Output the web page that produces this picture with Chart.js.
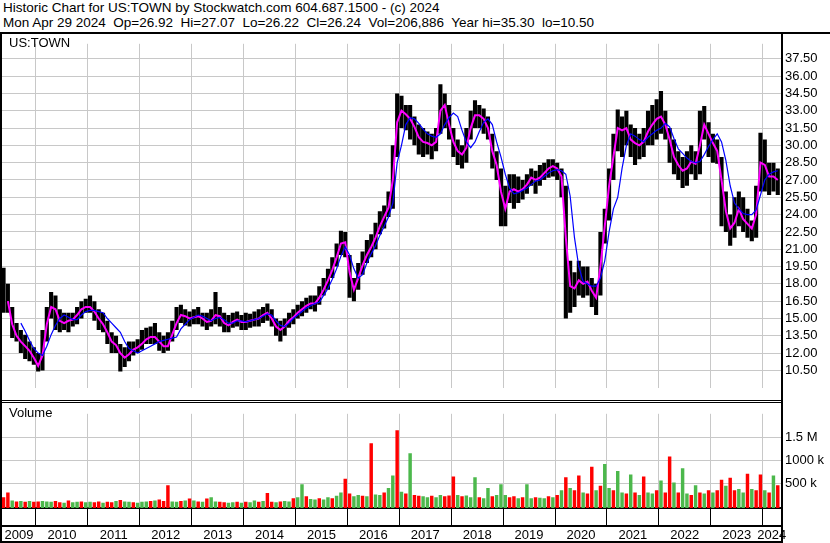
<!DOCTYPE html>
<html>
<head>
<meta charset="utf-8">
<script src="https://cdn.jsdelivr.net/npm/chart.js@4.4.1/dist/chart.umd.min.js"></script>
<style>
body { margin: 0; background: #fff; }
#wrap { position: relative; width: 830px; height: 543px; overflow: hidden; font-family: "Liberation Sans", Arial, sans-serif; color: #000; }
.hd { position: absolute; left: 3px; font-size: 13.5px; line-height: 15px; white-space: pre; }
.lbl { position: absolute; left: 9px; font-size: 13px; }
.ln { position: absolute; background: #000; }
canvas { position: absolute; left: 0; }
</style>
</head>
<body>
<div id="wrap">
  <div class="hd" style="top:0">Historic Chart for US:TOWN by Stockwatch.com 604.687.1500 - (c) 2024</div>
  <div class="hd" style="top:15px">Mon Apr 29 2024  Op=26.92  Hi=27.07  Lo=26.22  Cl=26.24  Vol=206,886  Year hi=35.30  lo=10.50</div>
  <canvas id="priceChart" width="830" height="368" style="top:32px"></canvas>
  <canvas id="volChart" width="830" height="141" style="top:402px"></canvas>
  <div class="lbl" style="top:35px">US:TOWN</div>
  <div class="lbl" style="top:405px">Volume</div>
  <div class="ln" style="left:0;top:32px;width:830px;height:2px"></div>
  <div class="ln" style="left:0;top:32px;width:2px;height:511px"></div>
  <div class="ln" style="left:781px;top:32px;width:2px;height:511px"></div>
  <div class="ln" style="left:0;top:400px;width:781px;height:1px"></div>
  <div class="ln" style="left:0;top:402px;width:781px;height:1px"></div>
  <div class="ln" style="left:0;top:541px;width:781px;height:2px"></div>
</div>
<script>
// monthly bars, May 2009 .. Apr 2024
const firstYear = 2009, firstMonth = 5, monthCount = 180;

const highs = [
  19.4, 18.0, 16.0, 14.6, 14.0, 13.6, 13.0, 12.5,
  12.0, 14.0, 16.0, 17.3, 17.0, 15.8, 15.5, 15.5, 15.5, 16.0, 16.5, 16.7,
  17.0, 16.5, 15.8, 15.5, 14.8, 13.8, 13.5, 12.8, 12.5, 13.0, 13.0, 13.2,
  14.0, 14.2, 14.3, 14.6, 13.8, 13.5, 13.8, 14.8, 16.0, 16.2, 15.8, 15.6,
  15.8, 16.0, 15.5, 15.5, 15.8, 17.3, 16.0, 15.5, 15.3, 15.5, 15.6, 15.3,
  15.5, 15.4, 15.6, 15.8, 16.0, 16.3, 15.8, 15.0, 14.8, 15.0, 15.5, 15.8,
  16.2, 16.5, 16.8, 17.0, 17.0, 17.8, 18.5, 19.3, 20.3, 21.5, 22.6, 22.5,
  20.5, 18.5, 19.8, 20.8, 21.8, 22.3, 23.3, 24.3, 24.8, 26.0, 30.0, 34.5,
  34.3, 33.5, 33.5, 32.5, 31.8, 31.5, 31.2, 31.0, 31.5, 35.3, 34.5, 33.5,
  31.5, 30.5, 30.0, 31.5, 33.0, 33.9, 33.5, 33.2, 32.5, 31.0, 29.5, 28.0,
  26.5, 27.5, 27.5, 27.3, 27.0, 27.5, 28.0, 27.8, 28.3, 28.5, 28.8, 28.8,
  28.5, 28.0, 26.5, 20.0, 19.0, 20.0, 19.5, 19.5, 18.5, 18.0, 22.5, 24.5,
  28.0, 31.0, 33.1, 32.5, 33.0, 31.8, 31.5, 31.0, 31.5, 33.0, 33.5, 34.0,
  34.7, 33.0, 31.5, 30.5, 29.5, 29.0, 29.5, 30.0, 29.5, 33.0, 33.4, 32.0,
  31.0, 30.5, 29.0, 26.0, 24.0, 25.5, 26.0, 25.5, 24.5, 23.5, 26.5, 31.1,
  30.5, 28.5, 28.5, 28.0
];
const lows = [
  15.5, 15.5, 13.3, 13.0, 12.0, 11.5, 11.3, 11.0,
  10.4, 10.5, 13.0, 15.0, 14.0, 13.8, 14.0, 13.8, 14.3, 14.5, 15.0, 15.5,
  15.5, 14.8, 14.0, 13.8, 12.8, 12.0, 12.0, 10.4, 10.8, 11.3, 11.8, 12.0,
  12.3, 12.8, 12.8, 12.8, 12.2, 12.0, 12.2, 13.0, 14.0, 14.6, 14.4, 14.3,
  14.5, 14.5, 14.3, 14.0, 14.3, 14.5, 14.3, 13.8, 13.8, 14.2, 14.3, 14.0,
  14.0, 14.2, 14.3, 14.3, 14.6, 14.8, 14.3, 13.5, 13.0, 13.5, 14.2, 14.5,
  15.0, 15.2, 15.5, 15.8, 15.6, 16.2, 17.0, 17.5, 18.5, 19.5, 20.5, 20.3,
  16.8, 16.5, 17.5, 18.8, 19.8, 20.3, 21.0, 22.3, 22.8, 23.8, 24.5, 29.0,
  31.5, 31.3, 30.5, 30.0, 29.2, 29.0, 29.2, 28.8, 29.5, 31.0, 31.5, 30.5,
  29.0, 28.3, 28.0, 28.5, 30.5, 31.5, 31.5, 31.0, 30.5, 28.0, 27.0, 23.0,
  23.0, 25.0, 24.5, 25.0, 25.3, 25.8, 26.5, 25.8, 26.5, 27.0, 27.2, 27.3,
  27.0, 25.5, 15.0, 15.5, 16.0, 17.0, 16.8, 17.0, 16.0, 15.3, 17.0, 21.5,
  23.5, 27.0, 29.5, 29.0, 30.0, 29.0, 28.3, 28.8, 29.0, 30.0, 30.0, 30.5,
  31.0, 30.5, 28.5, 27.5, 27.0, 26.3, 26.5, 27.5, 27.0, 27.5, 30.5, 29.0,
  28.5, 28.4, 23.0, 22.5, 21.3, 22.0, 23.0, 22.5, 22.0, 21.7, 22.0, 26.0,
  26.0, 25.7, 26.0, 25.7
];
// magenta (short) average
const shortAvg = [
  null, 16.5, 14.5, 13.5, 13.0, 12.6, 12.2, 11.6,
  10.9, 11.8, 14.5, 16.0, 15.8, 14.8, 14.6, 14.8, 14.9, 15.3, 15.8, 16.0,
  16.0, 15.6, 15.0, 14.5, 13.8, 13.0, 12.7, 12.0, 11.6, 11.9, 12.3, 12.5,
  12.8, 13.2, 13.4, 13.4, 13.0, 12.6, 12.6, 13.6, 14.6, 15.3, 15.2, 15.0,
  15.1, 15.2, 15.0, 14.7, 14.8, 15.3, 15.2, 14.6, 14.4, 14.7, 14.9, 14.7,
  14.7, 14.8, 14.9, 15.0, 15.3, 15.5, 15.0, 14.3, 14.0, 14.3, 14.8, 15.1,
  15.5, 15.8, 16.1, 16.3, 16.3, 16.8, 17.5, 18.3, 19.2, 20.3, 21.5, 21.6,
  19.0, 17.5, 18.5, 19.6, 20.5, 21.2, 22.0, 23.0, 23.8, 24.6, 27.0, 32.0,
  33.0, 32.7, 32.3, 31.6, 30.7, 30.3, 30.2, 30.0, 30.3, 33.0, 33.5, 31.8,
  30.3, 29.5, 29.2, 29.8, 31.5, 32.6, 32.6, 32.3, 31.5, 29.5, 28.3, 26.0,
  24.5, 26.0, 26.2, 26.0, 26.2, 26.6, 27.2, 27.0, 27.2, 27.6, 28.0, 28.2,
  28.0, 27.3, 22.0, 17.8, 17.6, 18.3, 18.0, 18.2, 17.4, 16.8, 19.5, 23.0,
  26.5, 29.0, 31.5, 31.3, 31.5, 30.5, 30.2, 30.0, 30.3, 31.2, 31.8, 32.3,
  32.5, 31.8, 30.5, 29.0, 28.3, 27.8, 28.0, 28.6, 28.4, 30.0, 31.8, 31.0,
  30.2, 29.5, 27.0, 24.3, 22.8, 23.3, 24.5, 23.6, 23.2, 22.8, 24.0, 28.5,
  28.3, 27.3, 27.3, 27.0
];
// blue (long) average
const longAvg = [
  null, null, null, null, 14.6, 13.9, 13.1, 12.4,
  12.0, 11.8, 12.6, 13.6, 14.4, 15.0, 15.3, 15.1, 14.9, 14.9, 15.3, 15.6,
  15.7, 15.7, 15.6, 15.5, 15.0, 14.6, 14.2, 13.8, 13.0, 12.4, 12.2, 12.0,
  12.2, 12.4, 12.6, 12.8, 13.0, 13.1, 13.2, 13.3, 13.4, 14.1, 14.5, 14.9,
  15.1, 15.3, 15.2, 15.0, 14.8, 15.0, 15.1, 14.9, 14.6, 14.6, 14.8, 14.8,
  14.7, 14.8, 14.9, 15.0, 15.2, 15.4, 15.3, 14.8, 14.4, 14.3, 14.6, 15.0,
  15.3, 15.6, 15.9, 16.1, 16.3, 16.4, 17.0, 17.6, 18.4, 19.3, 20.4, 21.2,
  20.5, 19.3, 18.5, 18.8, 19.8, 20.6, 21.3, 22.2, 23.0, 23.8, 25.0, 28.5,
  30.0, 31.8, 32.4, 32.3, 31.9, 31.4, 31.0, 30.8, 30.7, 31.0, 31.8, 32.4,
  32.8, 32.5, 31.3, 30.3, 29.8, 30.3, 31.2, 32.0, 32.3, 31.8, 30.3, 29.0,
  27.5, 26.3, 25.8, 25.9, 26.1, 26.3, 26.6, 26.9, 27.0, 27.3, 27.6, 27.8,
  27.9, 27.8, 27.5, 25.6, 22.0, 19.5, 18.2, 18.0, 17.8, 17.8, 18.5, 20.0,
  22.5, 24.5, 25.5, 28.0, 30.0, 31.0, 30.8, 30.5, 30.3, 30.7, 31.0, 31.3,
  31.5, 31.9, 31.6, 30.6, 29.7, 29.3, 28.9, 28.6, 28.5, 28.6, 29.2, 29.9,
  30.5, 31.0, 30.3, 28.7, 26.5, 25.0, 24.5, 24.1, 24.0, 24.0, 24.4, 25.7,
  27.0, 27.5, 27.7, 27.8
];
// volume in thousands of shares
const volume = [
  200, 300, 130, 110, 120, 100, 120, 100,
  110, 120, 110, 100, 120, 90, 80, 130, 90, 100, 110, 90,
  100, 90, 110, 80, 100, 90, 120, 140, 110, 100, 90, 80,
  100, 110, 120, 130, 150, 120, 460, 110, 100, 120, 130, 170,
  130, 110, 100, 170, 200, 110, 100, 90, 80, 90, 100, 80,
  100, 90, 130, 100, 120, 290, 100, 90, 110, 120, 110, 180,
  200, 480, 220, 160, 150, 180, 150, 200, 180, 230, 300, 600,
  280, 220, 250, 230, 220, 1370, 260, 250, 300, 400, 670, 1650,
  320, 280, 1150, 250, 230, 220, 200, 230, 200, 250, 220, 240,
  650, 250, 220, 240, 200, 630, 200, 180, 400, 220, 250, 480,
  250, 200, 220, 180, 200, 480, 180, 200, 190, 180, 220, 200,
  250, 350, 630, 400, 350, 670, 300, 280, 860, 350, 450, 920,
  400, 350, 770, 300, 280, 690, 300, 250, 650, 300, 280, 350,
  560, 300, 1080, 520, 300, 830, 280, 250, 460, 300, 280, 350,
  300, 350, 580, 450, 620, 350, 380, 300, 710, 380, 350, 690,
  350, 300, 670, 460
];
// 1 = up (green), 0 = down (red)
const volUp = [
  0, 0, 1, 0, 1, 0, 1, 0,
  0, 1, 1, 1, 0, 0, 1, 0, 1, 1, 0, 1,
  1, 0, 0, 1, 0, 0, 1, 0, 1, 1, 0, 1,
  1, 1, 0, 1, 0, 0, 0, 1, 1, 0, 1, 0,
  1, 0, 1, 0, 1, 1, 0, 0, 1, 1, 0, 1,
  0, 1, 1, 0, 1, 0, 0, 1, 0, 1, 1, 0,
  1, 1, 0, 1, 1, 0, 1, 1, 0, 1, 1, 0,
  0, 1, 1, 0, 1, 0, 1, 1, 0, 1, 1, 0,
  1, 0, 1, 0, 0, 1, 1, 0, 1, 1, 0, 0,
  0, 1, 0, 1, 1, 1, 0, 1, 1, 0, 1, 1,
  1, 0, 0, 1, 0, 1, 1, 0, 1, 1, 0, 1,
  0, 1, 0, 1, 0, 0, 1, 0, 0, 1, 0, 1,
  1, 0, 1, 1, 0, 1, 0, 1, 0, 1, 1, 0,
  1, 0, 0, 1, 0, 1, 1, 0, 1, 0, 1, 0,
  1, 0, 0, 1, 0, 0, 1, 1, 0, 1, 0, 0,
  1, 0, 1, 0
];

const yearLabels = ['2009', '2010', '2011', '2012', '2013', '2014', '2015', '2016',
  '2017', '2018', '2019', '2020', '2021', '2022', '2023', '2024'];
const priceTicks = [10.5, 12, 13.5, 15, 16.5, 18, 19.5, 21, 22.5, 24, 25.5, 27,
  28.5, 30, 31.5, 33, 34.5, 36, 37.5];
const volTicks = [500000, 1000000, 1500000];
const volTickLabels = ['500 k', '1000 k', '1.5 M'];

// time axis in fractional years
const xMin = 2009.345, xMax = 2024.354;
const months = [];
for (let i = 0; i < monthCount; i++) {
    const m = firstMonth - 1 + i;
    months.push(firstYear + (m + 0.5) / 12);
}
const yearStarts = yearLabels.slice(1).map(Number);
const yearMids = yearLabels.map(y => {
    const a = Math.max(+y, xMin), b = Math.min(+y + 1, xMax);
    return (a + b) / 2;
});

const FONT = {family: '"Liberation Sans", Arial, sans-serif', size: 13};
const GRID = '#c8c8c8';
const GREEN = '#4cb84c', RED = '#ff0000';

const series = arr => months.map((t, i) => ({x: t, y: arr[i]}));

const timeAxis = (ticks, extra) => Object.assign({
    type: 'linear', min: xMin, max: xMax, offset: false,
    afterBuildTicks: s => { s.ticks = ticks.map(v => ({value: v})); }
}, extra);

new Chart(document.getElementById('priceChart'), {
    type: 'bar',
    data: {
        datasets: [
            {
                type: 'bar',
                data: months.map((t, i) => ({x: t, y: [lows[i], highs[i]]})),
                backgroundColor: '#000',
                barPercentage: 0.95,
                categoryPercentage: 1,
                order: 3
            },
            {
                type: 'line',
                data: series(shortAvg),
                borderColor: '#ff00ff',
                borderWidth: 2,
                pointRadius: 0,
                order: 2
            },
            {
                type: 'line',
                data: series(longAvg),
                borderColor: '#0000ff',
                borderWidth: 1.2,
                pointRadius: 0,
                order: 1
            }
        ]
    },
    options: {
        responsive: false,
        animation: false,
        devicePixelRatio: 1,
        layout: {padding: {left: 2, right: 0, top: 0, bottom: 0}},
        plugins: {legend: {display: false}, tooltip: {enabled: false}},
        scales: {
            x: timeAxis(yearStarts, {
                afterFit: s => { s.height = 0; },
                ticks: {display: false},
                grid: {color: GRID, drawTicks: false, offset: false},
                border: {display: false}
            }),
            y: {
                position: 'right', min: 8.96, max: 38.8,
                afterBuildTicks: s => { s.ticks = priceTicks.map(v => ({value: v})); },
                afterFit: s => { s.width = 49; },
                ticks: {callback: v => v.toFixed(2), padding: 4, font: FONT, color: '#000'},
                grid: {color: GRID, drawTicks: false},
                border: {display: false}
            }
        }
    }
});

new Chart(document.getElementById('volChart'), {
    type: 'bar',
    data: {
        datasets: [{
            data: months.map((t, i) => ({x: t, y: volume[i] * 1000})),
            backgroundColor: volUp.map(u => u ? GREEN : RED),
            base: -33000,
            barPercentage: 0.8,
            categoryPercentage: 1
        }]
    },
    options: {
        responsive: false,
        animation: false,
        devicePixelRatio: 1,
        layout: {padding: {left: 2, right: 0, top: 0, bottom: 0}},
        plugins: {legend: {display: false}, tooltip: {enabled: false}},
        scales: {
            x: timeAxis(yearStarts, {
                position: 'bottom',
                afterFit: s => { s.height = 18; },
                ticks: {display: false},
                grid: {color: GRID, tickColor: '#000', tickLength: 18, drawTicks: true, offset: false},
                border: {display: true, color: '#000', width: 2}
            }),
            x2: timeAxis(yearMids, {
                position: 'bottom',
                afterFit: s => { s.height = 17; },
                ticks: {
                    callback: (v, i) => yearLabels[i],
                    autoSkip: false, maxRotation: 0, padding: 2,
                    font: FONT, color: '#000'
                },
                grid: {display: false, drawTicks: false, offset: false},
                border: {display: true, color: '#000', width: 2}
            }),
            y: {
                position: 'right', min: -33000, max: 2006000,
                afterBuildTicks: s => { s.ticks = volTicks.map(v => ({value: v})); },
                afterFit: s => { s.width = 49; },
                ticks: {callback: (v, i) => volTickLabels[i], padding: 4, font: FONT, color: '#000'},
                grid: {color: GRID, drawTicks: false},
                border: {display: false}
            }
        }
    }
});
</script>
</body>
</html>
